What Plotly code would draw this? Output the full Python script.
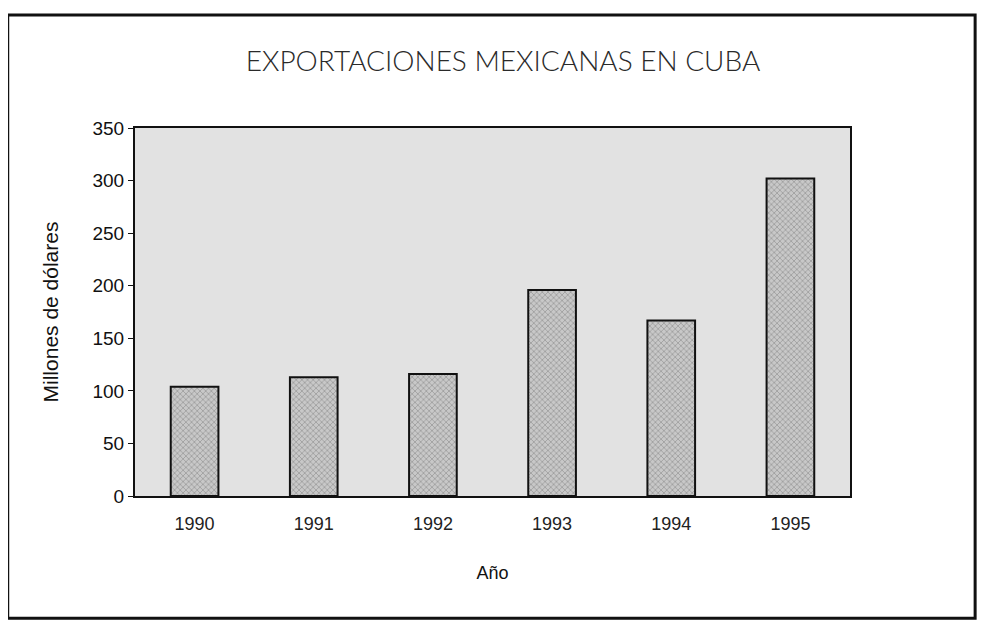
import plotly.graph_objects as go

anios = ["1990", "1991", "1992", "1993", "1994", "1995"]
exportaciones = [104, 113, 116, 196, 167, 302]

fig = go.Figure()
fig.add_trace(go.Bar(
    x=anios,
    y=exportaciones,
    width=0.4,
    marker=dict(
        color="#b8b8b8",
        line=dict(color="#111111", width=2),
        pattern=dict(shape="x", fgcolor="#5a5a5a", bgcolor="#c8c8c8", size=4, solidity=0.3),
    ),
    showlegend=False,
))

# la página tiene 8px de margen en el body, se compensa en los márgenes
fig.update_layout(
    width=990,
    height=631,
    margin=dict(l=127, r=148, t=120, b=143),
    paper_bgcolor="white",
    plot_bgcolor="#e2e2e2",
    font=dict(family="Liberation Sans, Arial", size=18, color="#111111"),
    title=dict(
        text="EXPORTACIONES MEXICANAS EN CUBA",
        x=0.5, xanchor="center",
        y=0.915, yanchor="middle",
        font=dict(family="Lato, DejaVu Sans", size=28, color="#2a2a2a", weight=300),
    ),
    xaxis=dict(
        title=dict(text="Año", standoff=34, font=dict(size=18)),
        showline=True, linecolor="#111111", linewidth=2,
        ticks="", tickfont=dict(size=18, color="#222222"),
        ticklabelstandoff=10,
        showgrid=False, mirror=True,
    ),
    yaxis=dict(
        title=dict(text="Millones de dólares", standoff=28, font=dict(size=21)),
        range=[0, 350], dtick=50,
        showline=True, linecolor="#111111", linewidth=2, mirror=True,
        ticks="outside", ticklen=5, tickcolor="#111111",
        showgrid=False, tickfont=dict(size=19),
        zeroline=False,
    ),
    bargap=0.6,
)

# marco exterior del gráfico
fig.add_shape(
    type="rect", xref="paper", yref="paper",
    x0=-0.178, x1=1.175, y0=-0.332, y1=1.307,
    line=dict(color="#111111", width=3),
    fillcolor="rgba(0,0,0,0)",
)

fig.write_html("out.html")
